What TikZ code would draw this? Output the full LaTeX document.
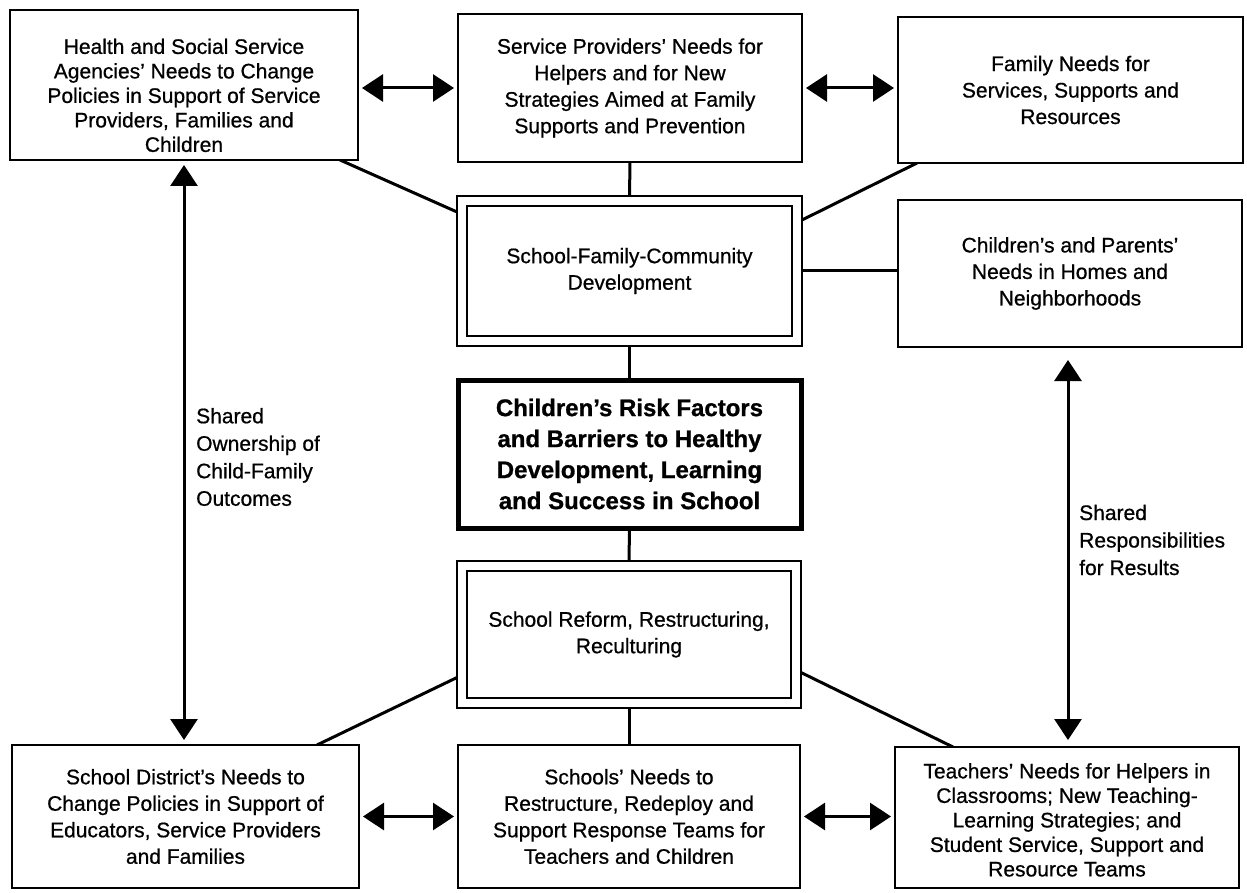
\documentclass[tikz,border=0pt]{standalone}
\usepackage{fontspec}
\setmainfont{Liberation Sans}[UprightFeatures={FakeBold=0.7},BoldFeatures={FakeBold=0.9}]
\usetikzlibrary{arrows.meta,backgrounds}
\begin{document}
\begin{tikzpicture}[x=1pt,y=-1pt,
  box/.style={draw, line width=2.8pt, fill=white, anchor=north west,
    align=center, inner sep=0pt, outer sep=0pt,
    font=\fontsize{21}{26.5}\selectfont},
  tightbox/.style={box, font=\fontsize{21}{24.5}\selectfont},
  dbox/.style={box, path picture={\draw[line width=2.6pt]
      ([shift={(10pt,-10pt)}]path picture bounding box.north west) rectangle
      ([shift={(-10pt,10pt)}]path picture bounding box.south east);}},
  corebox/.style={box, line width=5pt, font=\bfseries\fontsize{24}{31}\selectfont},
  link/.style={line width=3pt},
  tip/.tip={Triangle[length=21pt,width=27pt]},
  both/.style={line width=3pt, tip-tip, shorten <=4pt, shorten >=4pt},
  side/.style={anchor=west, align=left, inner sep=0pt,
    font=\fontsize{21}{27.5}\selectfont}
]
\useasboundingbox (0,0) rectangle (1247,893);

% top row
\node[tightbox, minimum width=348pt, minimum height=150pt] (A) at (10,10)
  {\rule{0pt}{36pt}Health and Social Service\\Agencies’ Needs to Change\\Policies in Support of Service\\Providers, Families and\\Children};
\node[box, minimum width=344pt, minimum height=148pt] (B) at (458,14)
  {Service Providers’ Needs for\\Helpers and for New\\Strategies Aimed at Family\\Supports and Prevention};
\node[box, minimum width=345pt, minimum height=146pt] (C) at (898,17)
  {Family Needs for\\Services, Supports and\\Resources};

% middle column
\node[dbox, minimum width=345pt, minimum height=150pt] (E) at (457,196)
  {School-Family-Community\\Development};
\node[box, minimum width=344pt, minimum height=147pt] (D) at (898,200)
  {Children’s and Parents’\\Needs in Homes and\\Neighborhoods};
\node[corebox, minimum width=343pt, minimum height=148pt] (F) at (458,380)
  {Children’s Risk Factors\\and Barriers to Healthy\\Development, Learning\\and Success in School};
\node[dbox, minimum width=344pt, minimum height=147pt] (G) at (457,561)
  {School Reform, Restructuring,\\Reculturing};

% bottom row
\node[box, minimum width=347pt, minimum height=143pt] (I) at (12,745)
  {School District’s Needs to\\Change Policies in Support of\\Educators, Service Providers\\and Families};
\node[box, minimum width=342pt, minimum height=143pt] (H) at (458,745)
  {Schools’ Needs to\\Restructure, Redeploy and\\Support Response Teams for\\Teachers and Children};
\node[tightbox, minimum width=344pt, minimum height=141pt] (J) at (895,747)
  {\rule{0pt}{20pt}Teachers’ Needs for Helpers in\\Classrooms; New Teaching-\\Learning Strategies; and\\Student Service, Support and\\Resource Teams};

% plain connectors behind the boxes
\begin{scope}[on background layer]
  \draw[link] ([xshift=-18pt]A.south east) -- ([yshift=59pt]E.west);
  \draw[link] (B.south) -- (E.north);
  \draw[link] ([xshift=19pt]C.south west) -- ([yshift=51pt]E.east);
  \draw[link] (E.east) -- (E.east -| D.west);
  \draw[link] (E.south) -- (F.north);
  \draw[link] (F.south) -- (G.north);
  \draw[link] (G.south) -- (H.north);
  \draw[link] ([yshift=-43pt]G.west) -- ([xshift=-42pt]I.north east);
  \draw[link] ([yshift=-38pt]G.east) -- ([xshift=58pt]J.north west);
\end{scope}

% two-way arrows
\draw[both] ([yshift=-3pt]A.east) -- ([yshift=-3pt]A.east -| B.west);
\draw[both] (B.east) -- (B.east -| C.west);
\draw[both] (I.east) -- (I.east -| H.west);
\draw[both] (H.east) -- (H.east -| J.west);
\draw[both, shorten <=5pt, shorten >=5pt] (A.south) -- (A.south |- I.north);
\draw[both, shorten <=13pt, shorten >=7pt] ([xshift=-2pt]D.south) -- ([xshift=-2pt]D.south |- J.north);

% side labels
\node[side] (own) at (196,457) {Shared\\Ownership of\\Child-Family\\Outcomes};
\node[side] (res) at (1079,540) {Shared\\Responsibilities\\for Results};
\end{tikzpicture}
\end{document}
